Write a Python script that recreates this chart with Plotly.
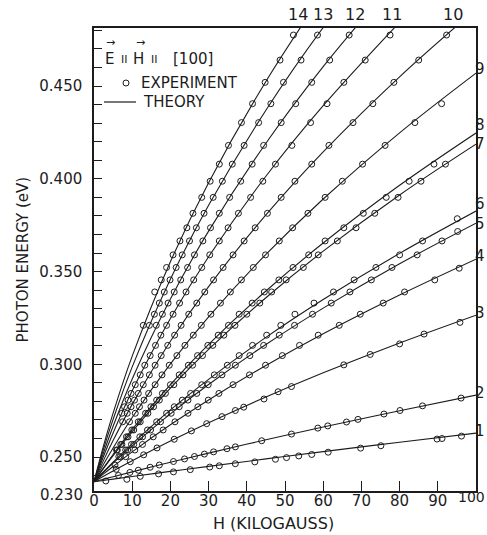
import plotly.graph_objects as go

FONT = "DejaVu Sans"
INK = "#1c1c1c"

# ---------------- data ----------------
# theory curves: photon energy (eV) sampled at these fields (kG)
H_GRID = [0, 2.5, 5, 10, 20, 30, 45, 60, 80, 100]

theory_1 = [0.2367, 0.2374, 0.2381, 0.2395, 0.2423, 0.2450, 0.2490, 0.2529, 0.2580, 0.2629]
theory_2 = [0.2367, 0.2380, 0.2394, 0.2420, 0.2472, 0.2521, 0.2593, 0.2662, 0.2750, 0.2834]
theory_3 = [0.2367, 0.2396, 0.2425, 0.2480, 0.2586, 0.2685, 0.2824, 0.2954, 0.3115, 0.3265]
theory_4 = [0.2367, 0.2409, 0.2449, 0.2528, 0.2674, 0.2808, 0.2994, 0.3165, 0.3374, 0.3567]
theory_5 = [0.2367, 0.2418, 0.2467, 0.2560, 0.2733, 0.2891, 0.3107, 0.3303, 0.3542, 0.3761]
theory_6 = [0.2367, 0.2421, 0.2473, 0.2571, 0.2754, 0.2919, 0.3145, 0.3349, 0.3598, 0.3826]
theory_7 = [0.2367, 0.2439, 0.2508, 0.2637, 0.2871, 0.3080, 0.3359, 0.3610, 0.3913, 0.4187]
theory_8 = [0.2367, 0.2442, 0.2514, 0.2649, 0.2891, 0.3107, 0.3395, 0.3654, 0.3965, 0.4247]
theory_9 = [0.2367, 0.2461, 0.2549, 0.2713, 0.3002, 0.3256, 0.3592, 0.3891, 0.4248, 0.4570]
theory_10 = [0.2367, 0.2482, 0.2589, 0.2784, 0.3124, 0.3419, 0.3805, 0.4145, 0.4550, 0.4914]
theory_11 = [0.2367, 0.2504, 0.2630, 0.2857, 0.3247, 0.3580, 0.4014, 0.4394, 0.4844]
theory_12 = [0.2367, 0.2523, 0.2666, 0.2921, 0.3352, 0.3718, 0.4192, 0.4605, 0.5093]
theory_13 = [0.2367, 0.2544, 0.2703, 0.2986, 0.3459, 0.3857, 0.4370, 0.4816, 0.5341]
theory_14 = [0.2367, 0.2562, 0.2737, 0.3044, 0.3553, 0.3979, 0.4525, 0.4999]

# experiment: field (kG) and photon energy (eV) of each open circle
exp_h_1 = [3.1, 8.6, 12.1, 16.9, 20.8, 25.2, 30.3, 32.8, 37.0, 42.1, 47.5, 50.4, 53.6, 57.0, 61.3, 69.8, 75.1, 89.8, 91.1, 96.2]
exp_e_1 = [0.2371, 0.2380, 0.2396, 0.2409, 0.2420, 0.2432, 0.2446, 0.2453, 0.2464, 0.2474, 0.2488, 0.2497, 0.2506, 0.2514, 0.2526, 0.2548, 0.2561, 0.2597, 0.2600, 0.2613]
exp_h_2 = [6.4, 9.4, 11.6, 14.7, 17.1, 20.8, 23.7, 26.3, 28.9, 31.3, 34.8, 37.0, 43.9, 51.7, 58.6, 61.2, 66.1, 69.1, 75.9, 80.1, 86.0, 96.1]
exp_e_2 = [0.2401, 0.2417, 0.2429, 0.2445, 0.2457, 0.2476, 0.2490, 0.2503, 0.2516, 0.2528, 0.2545, 0.2555, 0.2588, 0.2624, 0.2656, 0.2668, 0.2689, 0.2703, 0.2732, 0.2751, 0.2776, 0.2818]
exp_h_3 = [5.8, 9.5, 13.0, 16.5, 21.0, 25.5, 29.5, 33.5, 37.0, 39.2, 44.5, 48.2, 51.7, 65.4, 72.3, 80.0, 86.4, 95.8]
exp_e_3 = [0.2434, 0.2475, 0.2512, 0.2549, 0.2596, 0.2641, 0.2680, 0.2718, 0.2751, 0.2769, 0.2813, 0.2852, 0.2880, 0.2997, 0.3053, 0.3110, 0.3163, 0.3226]
exp_h_4 = [5.5, 8.3, 10.7, 12.7, 15.5, 18.1, 21.2, 24.6, 27.2, 29.9, 32.7, 36.4, 40.7, 44.9, 49.3, 53.8, 58.7, 64.2, 69.7, 75.7, 81.3, 89.2, 95.6]
exp_e_4 = [0.2457, 0.2502, 0.2538, 0.2568, 0.2609, 0.2646, 0.2690, 0.2736, 0.2771, 0.2807, 0.2843, 0.2890, 0.2943, 0.2995, 0.3047, 0.3102, 0.3157, 0.3210, 0.3270, 0.3330, 0.3390, 0.3455, 0.3518]
exp_h_5 = [6.9, 8.8, 10.4, 12.7, 14.8, 17.4, 20.2, 22.3, 24.6, 26.9, 29.9, 33.5, 37.0, 40.8, 44.4, 48.5, 52.5, 57.2, 62.1, 67.0, 72.6, 78.0, 84.6, 91.1, 95.2]
exp_e_5 = [0.2502, 0.2538, 0.2568, 0.2609, 0.2646, 0.2690, 0.2736, 0.2771, 0.2807, 0.2843, 0.2890, 0.2943, 0.2995, 0.3047, 0.3102, 0.3157, 0.3210, 0.3270, 0.3330, 0.3390, 0.3455, 0.3522, 0.3590, 0.3665, 0.3716]
exp_h_6 = [6.5, 8.3, 9.8, 12.0, 14.0, 16.4, 19.0, 21.0, 23.1, 25.3, 28.2, 31.5, 34.9, 38.0, 41.5, 45.2, 48.9, 52.6, 57.6, 62.7, 68.1, 73.8, 80.0, 86.0, 95.1]
exp_e_6 = [0.2502, 0.2538, 0.2568, 0.2609, 0.2646, 0.2690, 0.2736, 0.2771, 0.2807, 0.2843, 0.2890, 0.2943, 0.2995, 0.3047, 0.3102, 0.3157, 0.3210, 0.3270, 0.3330, 0.3390, 0.3455, 0.3522, 0.3590, 0.3665, 0.3785]
exp_h_7 = [6.1, 7.3, 8.9, 10.4, 12.1, 14.1, 15.6, 17.1, 18.7, 20.9, 23.3, 25.8, 28.4, 31.1, 34.0, 36.9, 40.0, 43.4, 46.5, 50.3, 54.8, 58.7, 63.7, 68.6, 73.5, 79.6, 85.6, 92.0]
exp_e_7 = [0.2538, 0.2568, 0.2609, 0.2646, 0.2690, 0.2736, 0.2771, 0.2807, 0.2843, 0.2890, 0.2943, 0.2995, 0.3047, 0.3102, 0.3157, 0.3210, 0.3270, 0.3330, 0.3390, 0.3455, 0.3522, 0.3590, 0.3665, 0.3736, 0.3814, 0.3900, 0.3987, 0.4079]
exp_h_8 = [5.9, 7.0, 8.5, 9.9, 11.6, 13.5, 14.9, 16.4, 17.9, 20.0, 22.3, 24.7, 27.1, 29.8, 32.5, 35.2, 38.0, 41.4, 44.6, 48.4, 52.1, 56.2, 60.5, 65.4, 70.5, 76.5, 82.5, 89.0]
exp_e_8 = [0.2538, 0.2568, 0.2609, 0.2646, 0.2690, 0.2736, 0.2771, 0.2807, 0.2843, 0.2890, 0.2943, 0.2995, 0.3047, 0.3102, 0.3157, 0.3210, 0.3270, 0.3330, 0.3390, 0.3455, 0.3522, 0.3590, 0.3665, 0.3736, 0.3814, 0.3900, 0.3987, 0.4079]
exp_h_9 = [9.3, 10.8, 11.9, 13.1, 14.3, 16.0, 17.8, 19.7, 21.7, 23.8, 26.0, 28.1, 30.6, 33.1, 35.7, 38.6, 41.7, 44.9, 48.5, 52.0, 56.0, 60.5, 65.0, 70.3, 76.2, 84.0, 91.0]
exp_e_9 = [0.2690, 0.2736, 0.2771, 0.2807, 0.2843, 0.2890, 0.2943, 0.2995, 0.3047, 0.3102, 0.3157, 0.3210, 0.3270, 0.3330, 0.3390, 0.3455, 0.3522, 0.3590, 0.3665, 0.3736, 0.3814, 0.3900, 0.3987, 0.4079, 0.4180, 0.4303, 0.4405]
exp_h_10 = [7.5, 8.7, 9.7, 10.6, 11.6, 12.9, 14.5, 16.0, 17.6, 19.3, 21.1, 22.8, 24.8, 26.9, 29.0, 31.3, 33.8, 36.4, 39.3, 42.2, 45.4, 49.0, 52.6, 57.0, 61.5, 67.8, 73.0, 78.5, 85.0, 92.3]
exp_e_10 = [0.2690, 0.2736, 0.2771, 0.2807, 0.2843, 0.2890, 0.2943, 0.2995, 0.3047, 0.3102, 0.3157, 0.3210, 0.3270, 0.3330, 0.3390, 0.3455, 0.3522, 0.3590, 0.3665, 0.3736, 0.3814, 0.3900, 0.3987, 0.4079, 0.4180, 0.4303, 0.4405, 0.4520, 0.4640, 0.4775]
exp_h_11 = [7.3, 8.0, 8.9, 9.7, 10.8, 12.1, 13.3, 14.7, 16.1, 17.5, 19.0, 20.7, 22.4, 24.1, 26.1, 28.2, 30.3, 32.8, 35.1, 37.8, 41.0, 44.2, 47.5, 51.8, 56.7, 61.0, 65.4, 71.0, 77.5]
exp_e_11 = [0.2736, 0.2771, 0.2807, 0.2843, 0.2890, 0.2943, 0.2995, 0.3047, 0.3102, 0.3157, 0.3210, 0.3270, 0.3330, 0.3390, 0.3455, 0.3522, 0.3590, 0.3665, 0.3736, 0.3814, 0.3900, 0.3987, 0.4079, 0.4180, 0.4303, 0.4405, 0.4520, 0.4640, 0.4775]
exp_h_12 = [16.3, 17.9, 19.4, 21.0, 22.7, 24.5, 26.3, 28.5, 30.5, 32.8, 35.5, 38.4, 41.4, 44.4, 49.0, 52.8, 57.0, 61.7, 66.8]
exp_e_12 = [0.3210, 0.3270, 0.3330, 0.3390, 0.3455, 0.3522, 0.3590, 0.3665, 0.3736, 0.3814, 0.3900, 0.3987, 0.4079, 0.4180, 0.4303, 0.4405, 0.4520, 0.4640, 0.4775]
exp_h_13 = [14.5, 15.8, 17.1, 18.4, 19.9, 21.5, 23.1, 25.0, 26.8, 28.8, 31.2, 33.6, 36.2, 39.3, 43.1, 46.3, 49.6, 54.2, 58.5]
exp_e_13 = [0.3210, 0.3270, 0.3330, 0.3390, 0.3455, 0.3522, 0.3590, 0.3665, 0.3736, 0.3814, 0.3900, 0.3987, 0.4079, 0.4180, 0.4303, 0.4405, 0.4520, 0.4640, 0.4775]
exp_h_14 = [12.9, 15.9, 17.6, 19.0, 20.7, 22.5, 24.3, 25.9, 28.2, 30.4, 32.8, 35.2, 38.6, 41.5, 44.8, 48.7, 52.2]
exp_e_14 = [0.3210, 0.3390, 0.3455, 0.3522, 0.3590, 0.3665, 0.3736, 0.3814, 0.3900, 0.3987, 0.4079, 0.4180, 0.4303, 0.4405, 0.4520, 0.4640, 0.4775]

# curve labels
RIGHT_LABELS = ["1", "2", "3", "4", "5", "6", "7", "8", "9"]
RIGHT_LABEL_E = [0.2640, 0.2845, 0.3276, 0.3584, 0.3755, 0.3862, 0.4187, 0.4290, 0.4592]
TOP_LABELS = ["10", "11", "12", "13", "14"]
TOP_LABEL_H = [94.0, 78.0, 68.3, 59.9, 53.5]

X_TICKS = [0, 10, 20, 30, 40, 50, 60, 70, 80, 90, 100]
X_TICK_TEXT = ["0", "10", "20", "30", "40", "50", "60", "70", "80", "90", ""]
X_LAST_LABEL = "100"
Y_TICKS = [0.24, 0.25, 0.26, 0.27, 0.28, 0.29, 0.30, 0.31, 0.32, 0.33, 0.34, 0.35,
           0.36, 0.37, 0.38, 0.39, 0.40, 0.41, 0.42, 0.43, 0.44, 0.45, 0.46, 0.47, 0.48]
Y_TICK_TEXT = ["", "0.250", "", "", "", "", "0.300", "", "", "", "", "0.350",
               "", "", "", "", "0.400", "", "", "", "", "0.450", "", "", ""]

THEORY = [theory_1, theory_2, theory_3, theory_4, theory_5, theory_6, theory_7,
          theory_8, theory_9, theory_10, theory_11, theory_12, theory_13, theory_14]
EXP_H = [exp_h_1, exp_h_2, exp_h_3, exp_h_4, exp_h_5, exp_h_6, exp_h_7,
         exp_h_8, exp_h_9, exp_h_10, exp_h_11, exp_h_12, exp_h_13, exp_h_14]
EXP_E = [exp_e_1, exp_e_2, exp_e_3, exp_e_4, exp_e_5, exp_e_6, exp_e_7,
         exp_e_8, exp_e_9, exp_e_10, exp_e_11, exp_e_12, exp_e_13, exp_e_14]

# ---------------- figure ----------------
W, H = 487, 535
ML, MR, MT, MB = 94, 11, 28, 44
PW, PH = W - ML - MR, H - MT - MB


def px(xp):
    return (xp - ML) / PW


def py(yp):
    return (H - MB - yp) / PH


fig = go.Figure()

for th in THEORY:
    fig.add_trace(go.Scatter(
        x=H_GRID[:len(th)], y=th, mode="lines",
        line=dict(color=INK, width=1.1, shape="spline", smoothing=1.0),
        hoverinfo="skip", showlegend=False))

for hh, ee in zip(EXP_H, EXP_E):
    fig.add_trace(go.Scatter(
        x=hh, y=ee, mode="markers",
        marker=dict(symbol="circle-open", size=6, color=INK, line=dict(width=1, color=INK)),
        hoverinfo="skip", showlegend=False))

ann = []
tf = dict(family=FONT, size=15, color=INK)

for lab, e in zip(RIGHT_LABELS, RIGHT_LABEL_E):
    ann.append(dict(x=1.0, xref="paper", y=e, yref="y", text=lab, showarrow=False,
                    xanchor="left", yanchor="middle", xshift=-2, borderpad=0,
                    font=dict(family=FONT, size=15, color=INK)))
for lab, h in zip(TOP_LABELS, TOP_LABEL_H):
    ann.append(dict(x=h, xref="x", y=py(14), yref="paper", text=lab, showarrow=False,
                    xanchor="center", yanchor="middle",
                    font=dict(family=FONT, size=16, color=INK)))

# last x tick label, kept inside the page like the reference
ann.append(dict(x=px(486), y=py(497), xref="paper", yref="paper", text=X_LAST_LABEL,
                showarrow=False, xanchor="right", yanchor="middle", borderpad=0,
                font=dict(family=FONT, size=14, color=INK)))

# axis titles and the bottom-left 0.230 label
ann.append(dict(x=px(22), y=0.5, xref="paper", yref="paper", text="PHOTON ENERGY (eV)",
                textangle=-90, showarrow=False, xanchor="center", yanchor="middle", font=tf))
ann.append(dict(x=px(273), y=py(523), xref="paper", yref="paper", text="H (KILOGAUSS)",
                showarrow=False, xanchor="center", yanchor="middle",
                font=dict(family=FONT, size=16, color=INK)))
ann.append(dict(x=px(85), y=py(495), xref="paper", yref="paper", text="0.230",
                showarrow=False, xanchor="right", yanchor="middle", font=tf))

# legend block
ann.append(dict(x=px(109), y=py(58.5), xref="paper", yref="paper", text="E", showarrow=False,
                xanchor="center", yanchor="middle", font=tf))
ann.append(dict(x=px(124.5), y=py(59.5), xref="paper", yref="paper", text="II", showarrow=False,
                xanchor="center", yanchor="middle", font=dict(family=FONT, size=11, color=INK)))
ann.append(dict(x=px(138), y=py(58.5), xref="paper", yref="paper", text="H", showarrow=False,
                xanchor="center", yanchor="middle", font=tf))
ann.append(dict(x=px(154.5), y=py(59.5), xref="paper", yref="paper", text="II", showarrow=False,
                xanchor="center", yanchor="middle", font=dict(family=FONT, size=11, color=INK)))
ann.append(dict(x=px(171), y=py(58.5), xref="paper", yref="paper", text="[100]", showarrow=False,
                xanchor="left", yanchor="middle", font=tf))
for xa in (110, 140):
    ann.append(dict(x=px(xa), y=py(42.5), xref="paper", yref="paper", text="→", showarrow=False,
                    xanchor="center", yanchor="middle", font=dict(family=FONT, size=11, color=INK)))
ann.append(dict(x=px(139), y=py(83), xref="paper", yref="paper", text="EXPERIMENT",
                showarrow=False, xanchor="left", yanchor="middle", font=tf))
ann.append(dict(x=px(141), y=py(102), xref="paper", yref="paper", text="THEORY",
                showarrow=False, xanchor="left", yanchor="middle", font=tf))

shapes = [
    dict(type="circle", xref="paper", yref="paper",
         x0=px(123), x1=px(129), y0=py(86), y1=py(80),
         line=dict(color=INK, width=1)),
    dict(type="line", xref="paper", yref="paper",
         x0=px(104), x1=px(136), y0=py(102), y1=py(102),
         line=dict(color=INK, width=1.2)),
]

axis_common = dict(showline=True, linecolor=INK, linewidth=1.5, mirror=True,
                   showgrid=False, zeroline=False, ticks="inside", automargin=False,
                   tickcolor=INK, tickwidth=1.2, tickfont=tf)

fig.update_layout(
    width=W, height=H,
    margin=dict(l=ML, r=MR, t=MT, b=MB, pad=0, autoexpand=False),
    plot_bgcolor="white", paper_bgcolor="white",
    showlegend=False,
    xaxis=dict(range=[0, 100], tickmode="array", tickvals=X_TICKS, ticktext=X_TICK_TEXT,
               ticklen=10, ticklabelstandoff=-5, **axis_common),
    yaxis=dict(range=[0.2317, 0.4813], tickmode="array", tickvals=Y_TICKS, ticktext=Y_TICK_TEXT,
               ticklen=8, ticklabelstandoff=7, **axis_common),
    annotations=ann,
    shapes=shapes,
)

fig.write_html("out.html")
